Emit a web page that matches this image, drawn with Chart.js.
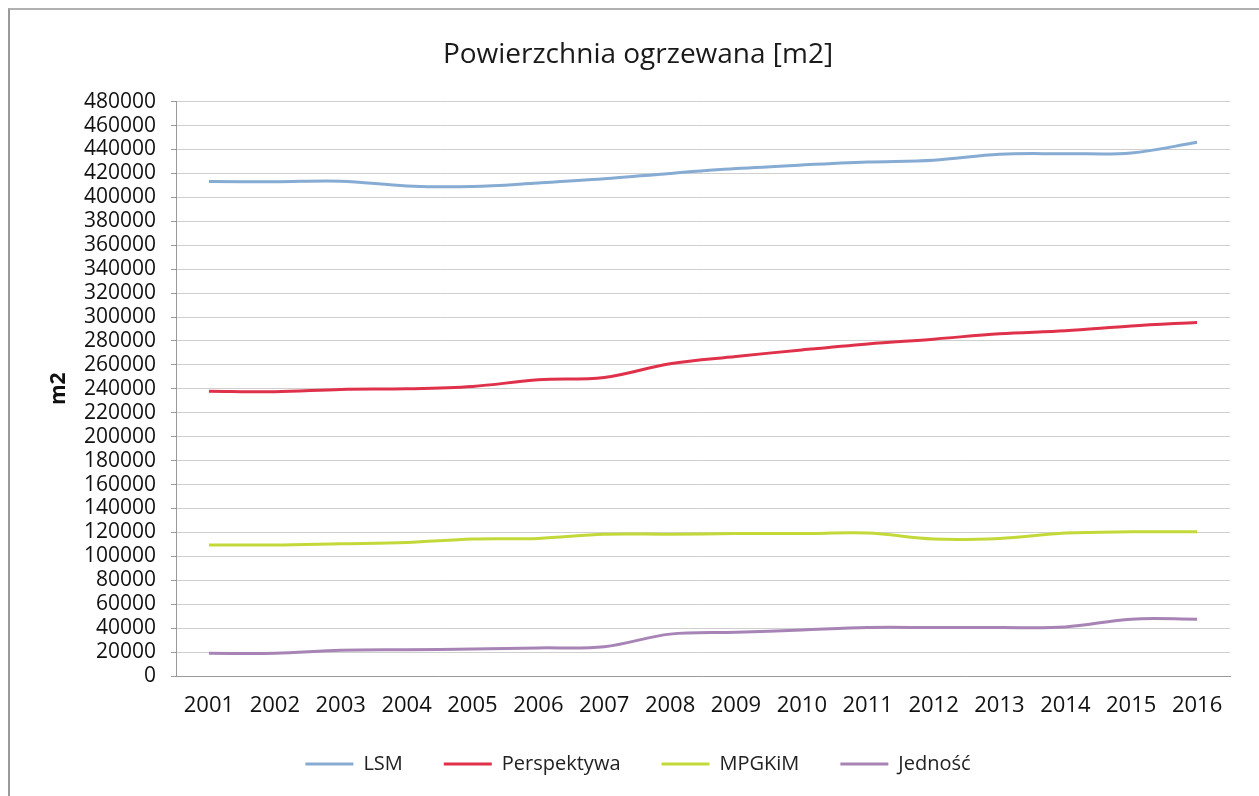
<!DOCTYPE html>
<html>
<head>
<meta charset="utf-8">
<script src="https://cdn.jsdelivr.net/npm/chart.js@4"></script>
<style>
  html, body { margin: 0; padding: 0; background: #fff; }
  #wrap { position: relative; width: 1259px; height: 796px; overflow: hidden; }
  #frame { position: absolute; left: 8px; top: 8px; width: 1260px; height: 800px;
           border-left: 2px solid #9a9a9a; border-top: 2px solid #b0b0b0; box-sizing: border-box; }
  canvas { position: absolute; left: 0; top: 0; }
</style>
</head>
<body>
<div id="wrap">
  <div id="frame"></div>
  <canvas id="c" width="1259" height="796"></canvas>
</div>
<script>
const categories = ['2001','2002','2003','2004','2005','2006','2007','2008','2009','2010','2011','2012','2013','2014','2015','2016'];
const lsm = [413200, 413000, 413500, 409500, 409000, 412000, 415500, 420000, 424000, 427000, 429500, 431000, 436000, 436500, 437000, 446000];
const perspektywa = [238000, 237500, 239500, 240000, 242000, 247500, 249500, 261000, 267000, 272500, 277500, 281500, 286000, 288500, 292500, 295500];
const mpgkim = [109500, 109500, 110500, 111500, 114500, 115000, 118500, 118500, 119000, 119000, 119500, 114500, 115000, 119500, 120500, 120500];
const jednosc = [19000, 19000, 21500, 22000, 22500, 23500, 24500, 35000, 36500, 38500, 40500, 40500, 40500, 41000, 47500, 47500];
const seriesNames = ['LSM', 'Perspektywa', 'MPGKiM', 'Jedność'];
const yMin = 0, yMax = 480000, yStep = 20000;
const titleText = 'Powierzchnia ogrzewana [m2]';
const yTitle = 'm2';

const colors = ['#86acd4', '#e0314b', '#c3d93a', '#a784b5'];
const FONT = "'Open Sans', 'DejaVu Sans', sans-serif";

function ds(label, data, color) {
  return { label, data, borderColor: color, backgroundColor: color, borderWidth: 3,
           pointRadius: 0, pointHoverRadius: 0, tension: 0.35, fill: false };
}

new Chart(document.getElementById('c'), {
  type: 'line',
  data: {
    labels: categories,
    datasets: [
      ds(seriesNames[0], lsm, colors[0]),
      ds(seriesNames[1], perspektywa, colors[1]),
      ds(seriesNames[2], mpgkim, colors[2]),
      ds(seriesNames[3], jednosc, colors[3])
    ]
  },
  options: {
    responsive: false,
    animation: false,
    events: [],
    layout: { padding: { left: 46, right: 29, top: 0, bottom: 12 } },
    plugins: {
      title: {
        display: true, text: titleText, color: '#1a1a1a',
        font: { family: FONT, size: 28, weight: 'normal' },
        padding: { top: 38, bottom: 30 }
      },
      legend: {
        position: 'bottom',
        labels: {
          color: '#222', font: { family: FONT, size: 20 },
          boxWidth: 48, boxHeight: 3, padding: 41,
          generateLabels(chart) {
            return chart.data.datasets.map((d, i) => ({
              text: d.label, fillStyle: d.borderColor, strokeStyle: d.borderColor,
              lineWidth: 0, hidden: false, datasetIndex: i, fontColor: '#222'
            }));
          }
        }
      },
      tooltip: { enabled: false }
    },
    scales: {
      x: {
        offset: true,
        grid: { display: false, drawTicks: false },
        border: { display: true, color: '#9a9a9a', width: 1 },
        ticks: { color: '#111', font: { family: FONT, size: 22 }, padding: 17, maxRotation: 0 },
        afterFit(scale) { scale.height = 37; }
      },
      y: {
        min: yMin, max: yMax,
        grid: { color: '#cfcfcf', lineWidth: 1, tickLength: 5, tickColor: '#9a9a9a' },
        border: { display: true, color: '#9a9a9a', width: 1 },
        ticks: { stepSize: yStep, autoSkip: false, color: '#111',
                 font: { family: FONT, size: 21 }, padding: 15,
                 callback: v => String(v) },
        title: { display: true, text: yTitle, color: '#111',
                 font: { family: FONT, size: 21, weight: 'bold' }, padding: 0 },
        afterFit(scale) { scale.width = 130; }
      }
    }
  }
});
</script>
</body>
</html>
